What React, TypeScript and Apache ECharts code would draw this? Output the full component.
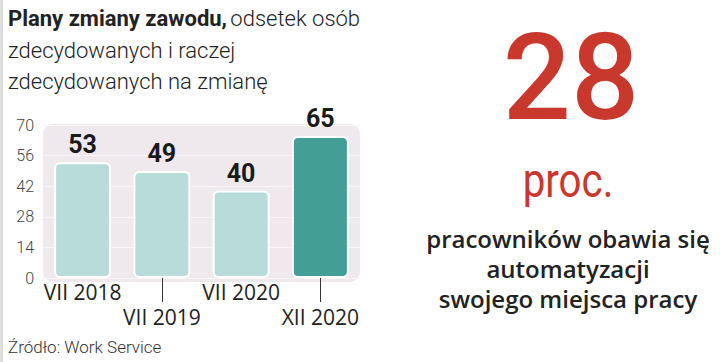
import React, { useEffect, useRef } from "react";
import * as echarts from "echarts";

const categories = ["VII 2018", "VII 2019", "VII 2020", "XII 2020"];
const values = [53, 49, 40, 65];
const barColors = ["#b7dcd9", "#b7dcd9", "#b7dcd9", "#439f95"];
const yTicks = [0, 14, 28, 42, 56, 70];
const titleBold = "Plany zmiany zawodu,";
const titleRest = ["odsetek osób", "zdecydowanych i raczej", "zdecydowanych na zmianę"];
const bigNumber = "28";
const bigUnit = "proc.";
const sideText = ["pracowników obawia się", "automatyzacji", "swojego miejsca pracy"];
const sourceText = "Źródło: Work Service";

export default function App() {
  const ref = useRef<HTMLDivElement>(null);
  useEffect(() => {
    document.body.style.margin = "0";
    const chart = echarts.init(ref.current!, null, { renderer: "svg" });
    const dark = "#222222";
    const red = "#c9382c";
    chart.setOption({
      animation: false,
      backgroundColor: "#ffffff",
      grid: { left: 43, right: 360, top: 125, bottom: 84, containLabel: false },
      xAxis: {
        type: "category",
        data: categories,
        axisLine: { show: false },
        axisTick: {
          show: true,
          alignWithLabel: true,
          interval: (i: number) => i % 2 === 1,
          length: 24,
          lineStyle: { color: "#333", width: 1 },
        },
        axisLabel: {
          interval: 0,
          margin: 1,
          hideOverlap: false,
          fontFamily: "Open Sans",
          fontSize: 21,
          lineHeight: 25,
          color: dark,
          verticalAlign: "top",
          formatter: (v: string, i: number) => (i % 2 === 1 ? "\n" + v : v),
        },
      },
      yAxis: {
        type: "value",
        min: yTicks[0],
        max: yTicks[yTicks.length - 1],
        interval: yTicks[1] - yTicks[0],
        axisLine: { show: false },
        axisTick: { show: false },
        axisLabel: {
          margin: 9,
          fontFamily: "Roboto",
          fontWeight: 300,
          fontSize: 16,
          color: "#444",
        },
        splitLine: { show: true, lineStyle: { color: "#faf6f8", width: 1 } },
      },
      series: [
        {
          type: "bar",
          data: values.map((v, i) => ({ value: v, itemStyle: { color: barColors[i] } })),
          barWidth: 57,
          itemStyle: { borderColor: "#ffffff", borderWidth: 2, borderRadius: 5 },
          label: {
            show: true,
            position: "top",
            distance: 5,
            fontFamily: "Roboto",
            fontWeight: "bold",
            fontSize: 25,
            color: "#1a1a1a",
          },
        },
      ],
      graphic: [
        { type: "rect", z: -10, shape: { x: 0, y: 0, width: 3, height: 362 }, style: { fill: "#dedede" } },
        {
          type: "rect",
          z: -10,
          shape: { x: 43, y: 124, width: 317, height: 158, r: 10 },
          style: { fill: "#efe9ed" },
        },
        {
          type: "text",
          x: 8,
          y: 18,
          style: {
            text: "{b|" + titleBold + "} {l|" + titleRest[0] + "}",
            verticalAlign: "middle",
            rich: {
              b: { fontFamily: "Roboto", fontWeight: "bold", fontSize: 22, fill: dark },
              l: { fontFamily: "Roboto", fontWeight: 300, fontSize: 22, fill: dark },
            },
          },
        },
        {
          type: "text",
          x: 8,
          y: 50,
          style: { text: titleRest[1], fontFamily: "Roboto", fontWeight: 300, fontSize: 22, fill: dark, verticalAlign: "middle" },
        },
        {
          type: "text",
          x: 8,
          y: 81,
          style: { text: titleRest[2], fontFamily: "Roboto", fontWeight: 300, fontSize: 22, fill: dark, verticalAlign: "middle" },
        },
        {
          type: "text",
          x: 8,
          y: 347,
          style: { text: sourceText, fontFamily: "Roboto", fontWeight: 300, fontSize: 17, fill: "#333", verticalAlign: "middle" },
        },
        {
          type: "text",
          x: 571,
          y: 78,
          style: { text: bigNumber, fontFamily: "Roboto", fontWeight: 500, fontSize: 120, fill: red, align: "center", verticalAlign: "middle" },
        },
        {
          type: "text",
          x: 568,
          y: 181,
          scaleX: 0.84,
          style: { text: bigUnit, fontFamily: "Roboto", fontWeight: 400, fontSize: 48, fill: red, align: "center", verticalAlign: "middle" },
        },
        ...sideText.map((t, i) => ({
          type: "text",
          x: 568,
          y: [238, 268, 298][i],
          style: { text: t, fontFamily: "Open Sans", fontWeight: 600, fontSize: 24, lineHeight: 26, fill: dark, align: "center", verticalAlign: "middle" },
        })),
      ],
    });
    return () => chart.dispose();
  }, []);
  return <div ref={ref} style={{ width: 720, height: 362 }} />;
}
